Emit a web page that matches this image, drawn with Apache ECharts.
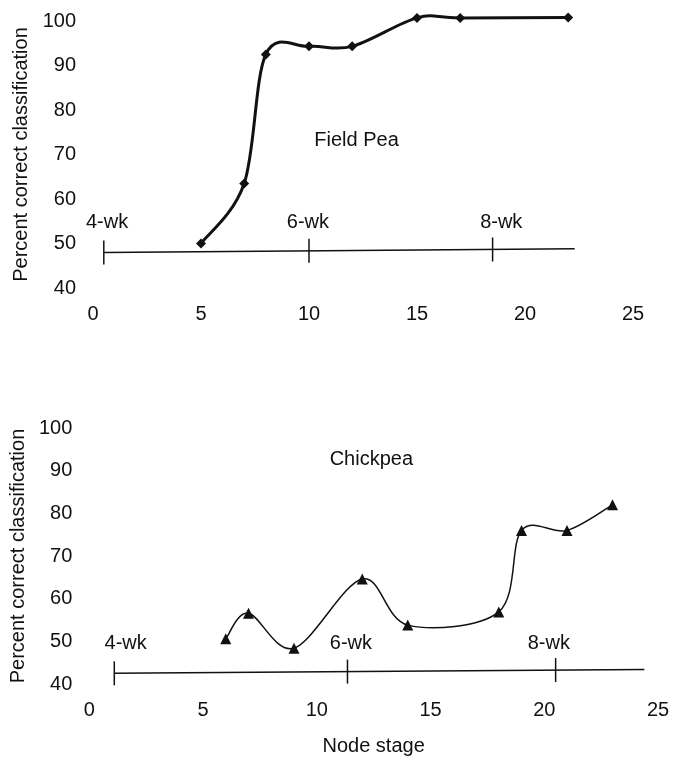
<!DOCTYPE html>
<html>
<head>
<meta charset="utf-8">
<script src="https://cdn.jsdelivr.net/npm/echarts@6/dist/echarts.min.js"></script>
<style>
  html, body { margin: 0; padding: 0; background: #fff; }
  #chart { width: 674px; height: 757px; }
</style>
</head>
<body>
<div id="chart"></div>
<script>
  // node stage ticks and percent ticks
  const xMin = 0, xMax = 25, xStep = 5
  const yMin = 40, yMax = 100, yStep = 10
  const yTitle = 'Percent correct classification'
  const xTitle = 'Node stage'

  // field pea
  const peaNodes = [5, 7, 8, 10, 12, 15, 17, 22]
  const peaPercent = [50, 63.5, 92.5, 94.3, 94.3, 100.7, 100.7, 100.8]
  const peaName = 'Field Pea'
  const peaNamePos = [12.2, 73.2]

  // chickpea
  const chickNodes = [6, 7, 9, 12, 14, 18, 19, 21, 23]
  const chickPercent = [50.6, 56.6, 48.4, 64.6, 53.8, 56.9, 76, 76, 82]
  const chickName = 'Chickpea'
  const chickNamePos = [12.4, 92.6]

  // week scale drawn under each curve
  const weekNames = ['4-wk', '6-wk', '8-wk']
  const peaWeekLine = [[0.5, 48.0], [22.3, 48.8]]
  const peaWeekTickX = [0.5, 10, 18.5]
  const peaWeekTickY = [48.0, 48.35, 48.65]
  const peaWeekLabelX = [0.65, 9.95, 18.9]
  const peaWeekLabelY = 54.8
  const chickWeekLine = [[1.1, 42.5], [24.4, 43.4]]
  const chickWeekTickX = [1.1, 11.35, 20.5]
  const chickWeekTickY = [42.5, 42.9, 43.25]
  const chickWeekLabelX = [1.6, 11.5, 20.2]
  const chickWeekLabelY = 49.6

  const ink = '#111'
  const font = 'Liberation Sans, Arial, sans-serif'

  const chart = echarts.init(document.getElementById('chart'))

  function xAxis(idx, withName) {
    return {
      type: 'value',
      gridIndex: idx,
      min: xMin,
      max: xMax,
      interval: xStep,
      axisLine: { show: false },
      axisTick: { show: false },
      splitLine: { show: false },
      axisLabel: { color: ink, fontSize: 20, fontFamily: font, margin: 16 },
      name: withName ? xTitle : '',
      nameLocation: 'middle',
      nameGap: 52,
      nameTextStyle: { color: ink, fontSize: 20, fontFamily: font }
    }
  }

  function yAxis(idx) {
    return {
      type: 'value',
      gridIndex: idx,
      min: yMin,
      max: yMax,
      interval: yStep,
      axisLine: { show: false },
      axisTick: { show: false },
      splitLine: { show: false },
      axisLabel: { color: ink, fontSize: 20, fontFamily: font, margin: 17 },
      name: yTitle,
      nameLocation: 'middle',
      nameGap: 60,
      nameTextStyle: { color: ink, fontSize: 20, fontFamily: font }
    }
  }

  function textSeries(idx, items) {
    return {
      type: 'scatter',
      xAxisIndex: idx,
      yAxisIndex: idx,
      symbolSize: 0,
      silent: true,
      clip: false,
      data: items,
      itemStyle: { opacity: 1 },
      label: {
        show: true,
        position: 'inside',
        formatter: '{b}',
        color: ink,
        opacity: 1,
        fontSize: 20,
        fontFamily: font
      },
      z: 5
    }
  }

  function weekSeries(idx, line, tickX, tickY, labelX, labelY) {
    return [
      {
        type: 'line',
        xAxisIndex: idx,
        yAxisIndex: idx,
        data: line,
        symbol: 'none',
        silent: true,
        lineStyle: { color: ink, width: 1.5 }
      },
      {
        type: 'scatter',
        xAxisIndex: idx,
        yAxisIndex: idx,
        data: tickX.map((x, i) => [x, tickY[i]]),
        symbol: 'rect',
        symbolSize: [1.5, 24],
        silent: true,
        clip: false,
        itemStyle: { color: ink, opacity: 1 }
      },
      textSeries(idx, weekNames.map((n, i) => ({ name: n, value: [labelX[i], labelY] })))
    ]
  }

  // smoothed curve like the spreadsheet one: each segment is a bezier
  // whose control points follow the neighbouring points (catmull-rom)
  function curveSeries(idx, xs, ys, width) {
    return {
      type: 'custom',
      xAxisIndex: idx,
      yAxisIndex: idx,
      silent: true,
      clip: false,
      data: xs.map((x, i) => [x, ys[i]]),
      renderItem(params, api) {
        const i = params.dataIndex
        const n = xs.length
        if (i >= n - 1) return
        const p = k => api.coord([xs[Math.max(0, Math.min(n - 1, k))], ys[Math.max(0, Math.min(n - 1, k))]])
        const p0 = p(i - 1), p1 = p(i), p2 = p(i + 1), p3 = p(i + 2)
        return {
          type: 'bezierCurve',
          shape: {
            x1: p1[0], y1: p1[1],
            x2: p2[0], y2: p2[1],
            cpx1: p1[0] + (p2[0] - p0[0]) / 6,
            cpy1: p1[1] + (p2[1] - p0[1]) / 6,
            cpx2: p2[0] - (p3[0] - p1[0]) / 6,
            cpy2: p2[1] - (p3[1] - p1[1]) / 6
          },
          style: { stroke: ink, lineWidth: width, fill: null }
        }
      },
      z: 3
    }
  }

  function markerSeries(idx, xs, ys, symbol, size) {
    return {
      type: 'scatter',
      xAxisIndex: idx,
      yAxisIndex: idx,
      clip: false,
      data: xs.map((x, i) => [x, ys[i]]),
      symbol: symbol,
      symbolSize: size,
      itemStyle: { color: ink, opacity: 1 },
      z: 4
    }
  }

  chart.setOption({
    animation: false,
    backgroundColor: '#fff',
    grid: [
      { left: 93, right: 41, top: 21, height: 267 },
      { left: 89, right: 16, top: 428, height: 256 }
    ],
    xAxis: [xAxis(0, false), xAxis(1, true)],
    yAxis: [yAxis(0), yAxis(1)],
    series: [
      ...weekSeries(0, peaWeekLine, peaWeekTickX, peaWeekTickY, peaWeekLabelX, peaWeekLabelY),
      ...weekSeries(1, chickWeekLine, chickWeekTickX, chickWeekTickY, chickWeekLabelX, chickWeekLabelY),
      curveSeries(0, peaNodes, peaPercent, 3),
      markerSeries(0, peaNodes, peaPercent, 'diamond', 10),
      curveSeries(1, chickNodes, chickPercent, 1.5),
      markerSeries(1, chickNodes, chickPercent, 'triangle', 11),
      textSeries(0, [{ name: peaName, value: peaNamePos }]),
      textSeries(1, [{ name: chickName, value: chickNamePos }])
    ]
  })
</script>
</body>
</html>
